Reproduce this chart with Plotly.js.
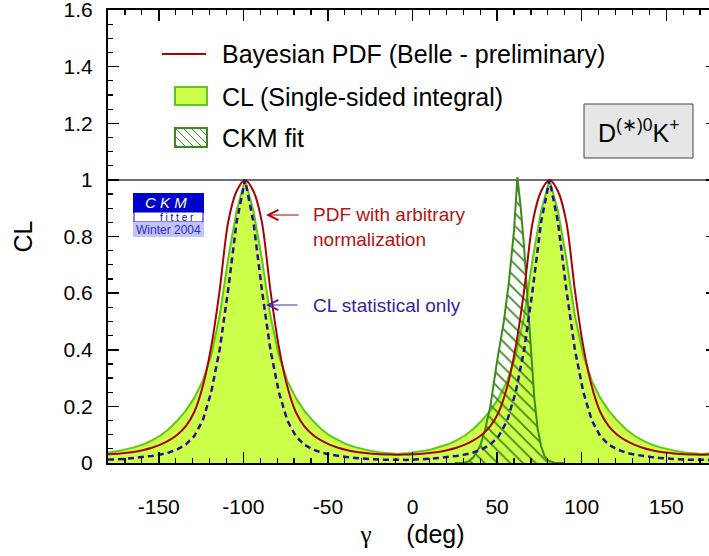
<!DOCTYPE html>
<html><head><meta charset="utf-8">
<script src="https://cdn.plot.ly/plotly-3.0.1.min.js"></script>
<style>html,body{margin:0;padding:0;overflow:hidden;background:#fff;width:709px;height:556px}#chart{width:718px;height:556px}</style>
</head><body><div id="chart"></div>
<script>
// gamma (deg) sample points
const gammaDeg = [-180,-179,-174,-169,-164,-159,-154,-149,-144,-139,-134,-129,-124,-119,-114,-109,-104,-99,-94,-89,-84,-79,-74,-69,-64,-59,-54,-49,-44,-39,-34,-29,-24,-19,-14,-9,-4,1,6,11,16,21,26,31,36,41,46,51,56,61,66,71,76,81,86,91,96,101,106,111,116,121,126,131,136,141,146,151,156,161,166,171,176,180];
// Bayesian PDF (Belle - preliminary), arbitrary normalization
const pdfBelle = [0.031,0.031,0.033,0.036,0.040,0.046,0.054,0.065,0.080,0.100,0.130,0.180,0.270,0.410,0.610,0.850,0.960,1.000,
0.960,0.850,0.610,0.410,0.270,0.180,0.130,0.100,0.080,0.065,0.054,0.046,0.040,0.036,0.033,0.031,0.030,0.029,
0.030,0.031,0.033,0.036,0.040,0.046,0.054,0.065,0.080,0.100,0.130,0.180,0.270,0.410,0.610,0.850,0.960,1.000,
0.960,0.850,0.610,0.410,0.270,0.180,0.130,0.100,0.080,0.065,0.054,0.046,0.040,0.036,0.033,0.031,0.030,0.029,
0.030,0.031];
// CL (single-sided integral)
const clSingleSided = [0.037,0.037,0.042,0.048,0.056,0.066,0.080,0.097,0.120,0.150,0.185,0.230,0.290,0.380,0.520,0.720,0.890,1.000,
0.890,0.720,0.520,0.380,0.290,0.230,0.185,0.150,0.120,0.097,0.080,0.066,0.056,0.048,0.042,0.037,0.034,0.032,
0.034,0.037,0.042,0.048,0.056,0.066,0.080,0.097,0.120,0.150,0.185,0.230,0.290,0.380,0.520,0.720,0.890,1.000,
0.890,0.720,0.520,0.380,0.290,0.230,0.185,0.150,0.120,0.097,0.080,0.066,0.056,0.048,0.042,0.037,0.034,0.032,
0.034,0.037];
// CL statistical only
const clStatOnly = [0.012,0.012,0.013,0.015,0.018,0.021,0.025,0.030,0.037,0.048,0.065,0.095,0.150,0.250,0.400,0.610,0.850,1.000,
0.850,0.610,0.400,0.250,0.150,0.095,0.065,0.048,0.037,0.030,0.025,0.021,0.018,0.015,0.013,0.012,0.011,0.010,
0.011,0.012,0.013,0.015,0.018,0.021,0.025,0.030,0.037,0.048,0.065,0.095,0.150,0.250,0.400,0.610,0.850,1.000,
0.850,0.610,0.400,0.250,0.150,0.095,0.065,0.048,0.037,0.030,0.025,0.021,0.018,0.015,0.013,0.012,0.011,0.010,
0.011,0.012];
// CKM fit
const ckmFitGamma = [25,30,33,36,40,43,46,50,54,57,60,62,64,66,68,70,72,74,76,78,80,84,90];
const ckmFitCL = [0,0,0.005,0.02,0.06,0.12,0.20,0.36,0.50,0.64,0.82,1.01,0.90,0.76,0.58,0.40,0.23,0.12,0.06,0.025,0.01,0,0];
// tick labels
const xTickVals = [-150,-100,-50,0,50,100,150];
const xTickText = ['-150','-100','-50','0','50','100','150'];
const yTickVals = [0,0.2,0.4,0.6,0.8,1,1.2,1.4,1.6];
const yTickText = ['0','0.2','0.4','0.6','0.8','1','1.2','1.4','1.6'];

const W=718,H=556,L=108,R=1,T=10,B=93;
const pw=W-L-R, ph=H-T-B;
const px=v=>(v-L)/pw, py=v=>(H-B-v)/ph;
const FONT='Liberation Sans, Arial, sans-serif';
const RED='#aa0000', FILL='#ccff4a', EDGE='#5ec814', BLUE='#2c0c9c', CKMG='#3c8a1e';

const traces=[
 {x:gammaDeg,y:clSingleSided,type:'scatter',mode:'lines',fill:'tozeroy',fillcolor:FILL,line:{color:EDGE,width:2},showlegend:false,hoverinfo:'skip'},
 {x:ckmFitGamma,y:ckmFitCL,type:'scatter',mode:'lines',fill:'tozeroy',fillcolor:'rgba(0,0,0,0)',
  fillpattern:{shape:'\\',fgcolor:CKMG,bgcolor:'rgba(255,255,255,0)',size:9,solidity:0.2},line:{color:CKMG,width:2},showlegend:false,hoverinfo:'skip'},
 {x:gammaDeg,y:pdfBelle,type:'scatter',mode:'lines',line:{color:RED,width:2,shape:'spline',smoothing:0.8},showlegend:false,hoverinfo:'skip'},
 {x:gammaDeg,y:clStatOnly,type:'scatter',mode:'lines',line:{color:BLUE,width:2.5,dash:'6px,4px'},showlegend:false,hoverinfo:'skip'}
];

const shapes=[], ann=[];
// CL = 1 reference line
shapes.push({type:'line',xref:'paper',yref:'y',x0:0,x1:1,y0:1,y1:1,line:{color:'#6e6e6e',width:2},layer:'below'});
// legend
shapes.push({type:'line',xref:'paper',yref:'paper',x0:px(162),x1:px(206),y0:py(54),y1:py(54),line:{color:RED,width:2}});
shapes.push({type:'rect',xref:'paper',yref:'paper',x0:px(175),x1:px(207),y0:py(105),y1:py(87),fillcolor:FILL,line:{color:EDGE,width:2}});
shapes.push({type:'rect',xref:'paper',yref:'paper',x0:px(175),x1:px(207),y0:py(147),y1:py(128),fillcolor:'rgba(0,0,0,0)',line:{color:CKMG,width:2}});
[[175,144,178,147],[175,136,186,147],[175,128,194,147],[183,128,202,147],[191,128,207,144],[199,128,207,136]].forEach(s=>{
 shapes.push({type:'line',xref:'paper',yref:'paper',x0:px(s[0]),y0:py(s[1]),x1:px(s[2]),y1:py(s[3]),line:{color:CKMG,width:1}});
});
const legTxt=[['Bayesian PDF (Belle - preliminary)',54],['CL (Single-sided integral)',97],['CKM fit',138]];
legTxt.forEach(t=>ann.push({xref:'paper',yref:'paper',x:px(220),y:py(t[1]),text:t[0],showarrow:false,xanchor:'left',yanchor:'middle',font:{family:FONT,size:25,color:'#000'}}));
// D(*)0K+ box
shapes.push({type:'rect',xref:'paper',yref:'paper',x0:px(584),x1:px(693),y0:py(158),y1:py(104),fillcolor:'#e6e6e6',line:{color:'#444',width:1}});
ann.push({xref:'paper',yref:'paper',x:px(638.5),y:py(131),text:'D<sup>(∗)0</sup>K<sup>+</sup>',showarrow:false,xanchor:'center',yanchor:'middle',font:{family:FONT,size:25,color:'#000'}});
// CKMfitter logo
shapes.push({type:'rect',xref:'paper',yref:'paper',x0:px(133),x1:px(204),y0:py(213),y1:py(193),fillcolor:'#0000cc',line:{width:0}});
shapes.push({type:'rect',xref:'paper',yref:'paper',x0:px(134),x1:px(203),y0:py(222),y1:py(212),fillcolor:'#ffffff',line:{color:'#0000cc',width:1}});
shapes.push({type:'rect',xref:'paper',yref:'paper',x0:px(133),x1:px(204),y0:py(237),y1:py(222),fillcolor:'#c4c4f4',line:{width:0}});
ann.push({xref:'paper',yref:'paper',x:px(166),y:py(202.5),text:'<i>C K M</i>',showarrow:false,xanchor:'center',yanchor:'middle',font:{family:FONT,size:15,color:'#ffffff'}});
ann.push({xref:'paper',yref:'paper',x:px(177),y:py(217.5),text:'f i t t e r',showarrow:false,xanchor:'center',yanchor:'middle',font:{family:FONT,size:10,color:'#0000cc'}});
ann.push({xref:'paper',yref:'paper',x:px(168),y:py(230),text:'Winter 2004',showarrow:false,xanchor:'center',yanchor:'middle',font:{family:FONT,size:12,color:'#2c2cd0'}});
// annotations with arrows
ann.push({xref:'paper',yref:'paper',x:px(266),y:py(215),ax:37,ay:0,text:' ',showarrow:true,arrowhead:5,arrowsize:2,arrowwidth:1,arrowcolor:RED,standoff:0});
ann.push({xref:'paper',yref:'paper',x:px(311),y:py(227),text:'PDF with arbitrary<br>normalization',showarrow:false,xanchor:'left',yanchor:'middle',align:'left',font:{family:FONT,size:19,color:'#b01414'}});
ann.push({xref:'paper',yref:'paper',x:px(266),y:py(305),ax:36,ay:0,text:' ',showarrow:true,arrowhead:5,arrowsize:2,arrowwidth:1,arrowcolor:'#4a2aa8',standoff:0});
ann.push({xref:'paper',yref:'paper',x:px(311),y:py(305),text:'CL statistical only',showarrow:false,xanchor:'left',yanchor:'middle',font:{family:FONT,size:19,color:'#3c1c9c'}});

const layout={
 width:W,height:H,margin:{l:L,r:R,t:T,b:B},paper_bgcolor:'#fff',plot_bgcolor:'#fff',
 font:{family:FONT,size:21,color:'#000'},showlegend:false,
 xaxis:{range:[-180,180],tickmode:'array',tickvals:xTickVals,ticktext:xTickText,ticks:'inside',ticklen:11,tickwidth:1.5,tickcolor:'#000',
  showline:true,linecolor:'#000',linewidth:2,mirror:'ticks',showgrid:false,zeroline:false,
  ticklabelstandoff:24,tickfont:{size:21},
  minor:{tickmode:'linear',tick0:0,dtick:10,ticks:'inside',ticklen:5,tickwidth:1.2,tickcolor:'#000',showgrid:false},
  title:{text:'<span style="font-family:Liberation Serif">γ</span>\u00a0\u00a0\u00a0\u00a0\u00a0(deg)',font:{size:25},standoff:8},automargin:false},
 yaxis:{range:[0,1.6001],tickmode:'array',tickvals:yTickVals,ticktext:yTickText,ticks:'inside',ticklen:11,tickwidth:1.5,tickcolor:'#000',
  showline:true,linecolor:'#000',linewidth:2,mirror:'ticks',showgrid:false,zeroline:false,
  ticklabelstandoff:9,ticklabeloverflow:'allow',tickfont:{size:21},
  minor:{tickmode:'linear',tick0:0,dtick:0.05,ticks:'inside',ticklen:5,tickwidth:1.2,tickcolor:'#000',showgrid:false},
  title:{text:'CL',font:{size:25},standoff:24},automargin:false},
 shapes:shapes,annotations:ann
};
Plotly.newPlot('chart',traces,layout,{staticPlot:true,displayModeBar:false});
</script></body></html>
